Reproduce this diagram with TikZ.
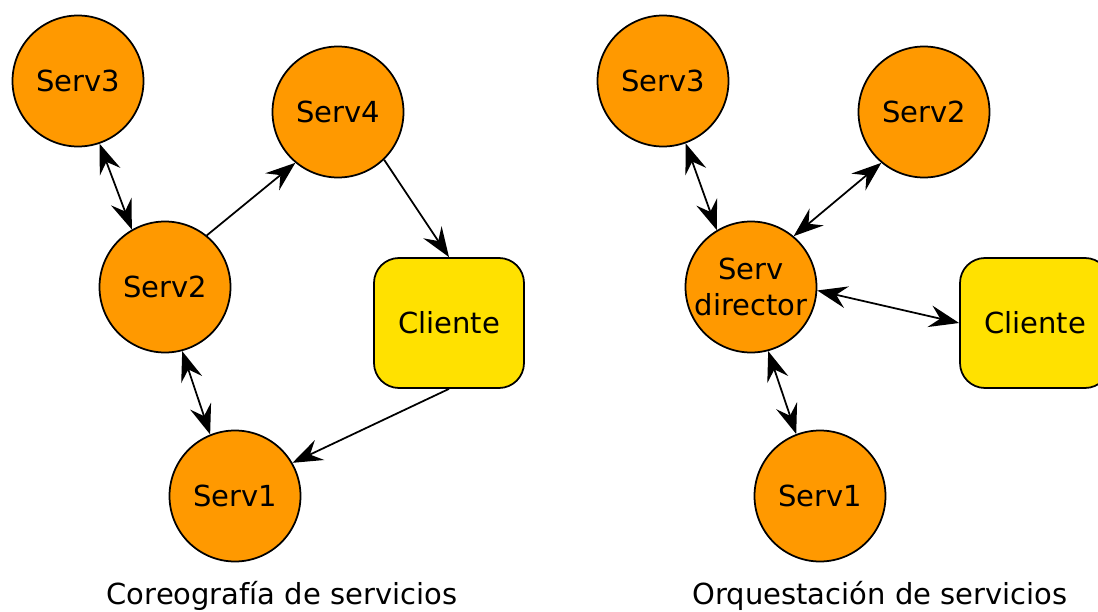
\documentclass[tikz,border=0pt]{standalone}
\usepackage{fontspec}
\setmainfont{DejaVu Sans}
\usetikzlibrary{arrows.meta,positioning}
\definecolor{servorange}{RGB}{255,153,0}
\definecolor{clienteyellow}{RGB}{255,225,0}

\begin{document}
\begin{tikzpicture}[>={Stealth[length=17pt,width=12.5pt,inset=6pt]},line width=1pt,on grid,
      font=\fontsize{16.5}{20.4}\selectfont,
      serv node/.style={circle,draw,fill=servorange,minimum size=2.62cm,inner sep=0pt,align=center},
      cliente node/.style={rectangle,draw,rounded corners=0.5cm,fill=clienteyellow,minimum width=3cm,minimum height=2.6cm}]
      \useasboundingbox (0,0) rectangle (21.96,-12.24);

      % coreografia
      \node[serv node] (serv2) at (3.30,-5.74) {Serv2};
      \node[serv node] (serv3) [above left=4.12cm and 1.74cm of serv2] {Serv3};
      \node[serv node] (serv4) [above right=3.5cm and 3.46cm of serv2] {Serv4};
      \node[serv node] (serv1) [below right=4.18cm and 1.4cm of serv2] {Serv1};
      \node[cliente node] (cliente) [below right=0.72cm and 5.68cm of serv2] {Cliente};
      \node (coreo) [below right=2cm and 0.94cm of serv1] {Coreografía de servicios};

      % orquestacion
      \node[serv node] (director) [right=11.72cm of serv2] {Serv\\director};
      \node[serv node] (oserv3) [above left=4.12cm and 1.76cm of director] {Serv3};
      \node[serv node] (oserv2) [above right=3.5cm and 3.46cm of director] {Serv2};
      \node[serv node] (oserv1) [below right=4.18cm and 1.38cm of director] {Serv1};
      \node[cliente node] (ocliente) [below right=0.72cm and 5.68cm of director] {Cliente};
      \node (orques) [below right=2cm and 1.2cm of oserv1] {Orquestación de servicios};

      \path[->]
        (serv3.289) edge [<->] (serv2.120)
        (serv2.51) edge (serv4.230)
        (serv4.314) edge (cliente.north)
        (cliente.south) edge (serv1.30)
        (serv1.112) edge [<->] (serv2.285);

      \path[<->]
        (oserv3.290) edge (director.121)
        (oserv2.230) edge (director.50)
        (ocliente.west) edge (director.-3.5)
        (oserv1.111) edge (director.285);
    \end{tikzpicture}
\end{document}
